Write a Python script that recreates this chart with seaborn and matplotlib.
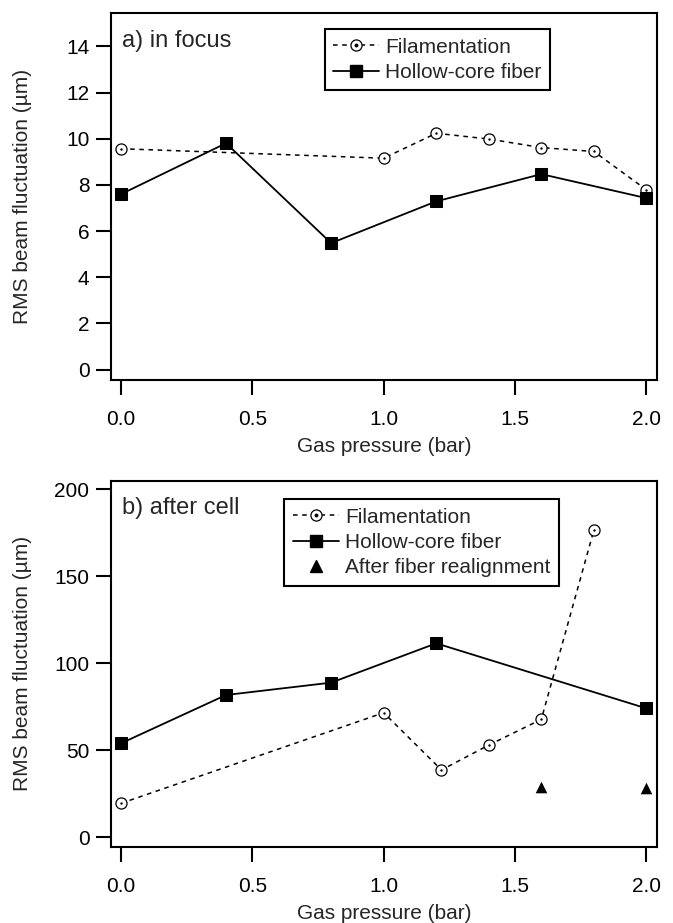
import numpy as np
import pandas as pd
import matplotlib
matplotlib.use('Agg')
import matplotlib.pyplot as plt
from matplotlib.lines import Line2D
from matplotlib.legend_handler import HandlerTuple
import seaborn as sns

sns.set_style('ticks')
plt.rcParams['font.family'] = ['Liberation Sans', 'DejaVu Sans']

# a) in focus
fil_a_x = [0.0, 1.0, 1.2, 1.4, 1.6, 1.8, 2.0]
fil_a_y = [9.57, 9.16, 10.24, 9.99, 9.62, 9.45, 7.79]
hcf_a_x = [0.0, 0.4, 0.8, 1.2, 1.6, 2.0]
hcf_a_y = [7.60, 9.81, 5.48, 7.29, 8.47, 7.43]

# b) after cell
fil_b_x = [0.0, 1.0, 1.22, 1.4, 1.6, 1.8]
fil_b_y = [19.5, 71.6, 38.7, 53.0, 67.8, 176.6]
hcf_b_x = [0.0, 0.4, 0.8, 1.2, 2.0]
hcf_b_y = [54.0, 81.8, 88.9, 111.5, 74.1]
realign_x = [1.6, 2.0]
realign_y = [29.1, 28.2]

xticks = [0.0, 0.5, 1.0, 1.5, 2.0]
yticks_a = [0, 2, 4, 6, 8, 10, 12, 14]
yticks_b = [0, 50, 100, 150, 200]

FS = 15
LW = 1.5
DASH = (0, (3, 3))


def draw_fil(ax, x, y):
    df = pd.DataFrame({'p': x, 'rms': y})
    sns.lineplot(data=df, x='p', y='rms', ax=ax, color='black', lw=1.1,
                 linestyle=DASH, marker='o', markersize=8,
                 markerfacecolor='white', markeredgecolor='black',
                 markeredgewidth=0.9, errorbar=None)
    sns.scatterplot(data=df, x='p', y='rms', ax=ax, marker='o', s=3,
                    color='black', linewidth=0, zorder=3)


def draw_hcf(ax, x, y):
    df = pd.DataFrame({'p': x, 'rms': y})
    sns.lineplot(data=df, x='p', y='rms', ax=ax, color='black', lw=1.3,
                 marker='s', markersize=8, markerfacecolor='black',
                 markeredgecolor='black', errorbar=None, zorder=4)


def style_axes(ax, yticks, ylim):
    ax.set_xlim(-0.038, 2.042)
    ax.set_ylim(*ylim)
    ax.set_xticks(xticks)
    ax.set_xticklabels([f'{v:.1f}' for v in xticks])
    ax.set_yticks(yticks)
    for s in ax.spines.values():
        s.set_visible(True)
        s.set_linewidth(LW)
        s.set_color('black')
    ax.tick_params(axis='both', direction='out', length=11, width=LW,
                   labelsize=FS, colors='black')
    ax.tick_params(axis='x', pad=10.5)
    ax.tick_params(axis='y', pad=4.5)
    ax.set_xlabel('Gas pressure (bar)', fontsize=FS, labelpad=6)
    ax.set_ylabel('RMS beam fluctuation (µm)', fontsize=FS)
    ax.yaxis.set_label_coords(-0.145, 0.5)


def fil_handle():
    return (Line2D([], [], color='black', lw=1.1, ls=DASH, marker='o', ms=8,
                   mfc='white', mec='black', mew=0.9),
            Line2D([], [], ls='none', marker='o', ms=1.8, color='black'))


hcf_handle = Line2D([], [], color='black', lw=1.3, marker='s', ms=8,
                    mfc='black', mec='black')
tri_handle = Line2D([], [], ls='none', marker='^', ms=8, color='black')

fig = plt.figure(figsize=(6.73, 9.23), dpi=100)
ax1 = fig.add_axes([0.1649, 0.5883, 0.812, 0.3976])
ax2 = fig.add_axes([0.1649, 0.0827, 0.812, 0.3965])

draw_fil(ax1, fil_a_x, fil_a_y)
draw_hcf(ax1, hcf_a_x, hcf_a_y)
style_axes(ax1, yticks_a, (-0.45, 15.45))
ax1.text(0.02, 0.955, 'a) in focus', transform=ax1.transAxes, fontsize=17,
         va='top', ha='left')
leg1 = ax1.legend([fil_handle(), hcf_handle],
                  ['Filamentation', 'Hollow-core fiber'],
                  handler_map={tuple: HandlerTuple(ndivide=1)},
                  loc='upper left', bbox_to_anchor=(0.4822, 0.9683),
                  bbox_transform=fig.transFigure, borderaxespad=0,
                  fontsize=FS, frameon=True, fancybox=False, framealpha=1,
                  edgecolor='black', handlelength=2.2, handletextpad=0.3,
                  labelspacing=0.3, borderpad=0.4)
leg1.get_frame().set_linewidth(LW)

draw_fil(ax2, fil_b_x, fil_b_y)
draw_hcf(ax2, hcf_b_x, hcf_b_y)
sns.scatterplot(x=realign_x, y=realign_y, ax=ax2, marker='^', s=70,
                color='black', linewidth=0, zorder=4)
style_axes(ax2, yticks_b, (-5.4, 205))
ax2.text(0.02, 0.956, 'b) after cell', transform=ax2.transAxes, fontsize=17,
         va='top', ha='left')
leg2 = ax2.legend([fil_handle(), hcf_handle, tri_handle],
                  ['Filamentation', 'Hollow-core fiber', 'After fiber realignment'],
                  handler_map={tuple: HandlerTuple(ndivide=1)},
                  loc='upper left', bbox_to_anchor=(0.4227, 0.4590),
                  bbox_transform=fig.transFigure, borderaxespad=0,
                  fontsize=FS, frameon=True, fancybox=False, framealpha=1,
                  edgecolor='black', handlelength=2.2, handletextpad=0.3,
                  labelspacing=0.3, borderpad=0.4)
leg2.get_frame().set_linewidth(LW)

fig.savefig('out.png', dpi=100)
